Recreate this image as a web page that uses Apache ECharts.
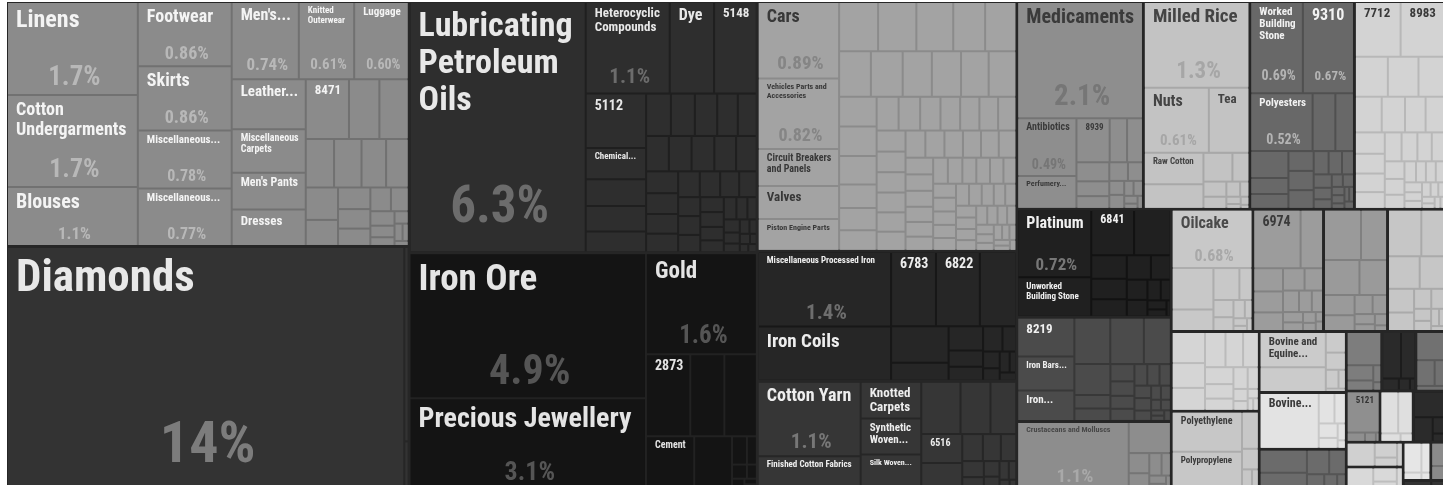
<!DOCTYPE html>
<html>
<head>
<meta charset="utf-8">
<script src="https://cdn.jsdelivr.net/npm/echarts/dist/echarts.min.js"></script>
<style>
html,body{margin:0;padding:0;background:#fff;overflow:hidden}
#chart{width:1443px;height:485px}
</style>
</head>
<body>
<div id="chart"></div>
<script>
// ---- Data: export shares (%). [name, share, showShareLabel]
const garmentsItems = [["Linens",1.74,1],["Cotton\nUndergarments",1.72,1],["Blouses",1.1,1],["Footwear",0.862,1],["Skirts",0.86,1],["Miscellaneous...",0.78,1],["Miscellaneous...",0.77,1],["Men's...",0.74,1],["Knitted\nOuterwear",0.61,1],["Luggage",0.60,1],["Leather...",0.53,0],["Miscellaneous\nCarpets",0.46,0],["Men's Pants",0.39,0],["Dresses",0.385,0],["8471",0.37,0]];
const garmentsOther = [0.26,0.25,0.196,0.19,0.17,0.156,0.15,0.12,0.1,0.09,0.08,0.07,0.06,0.05,0.04,0.03,0.025,0.02,0.015,0.01];
const diamondsItems = [["Diamonds",13.8,1]];
const diamondsOther = [0.12,0.03];
const chemItems = [["Lubricating\nPetroleum\nOils",6.3,1],["Heterocyclic\nCompounds",1.1,1],["Dye",0.58,0],["5148",0.56,0],["5112",0.47,0],["Chemical...",0.27,0]];
const chemOther = [0.23,0.22,0.18,0.15,0.145,0.135,0.125,0.115,0.115,0.115,0.115,0.11,0.105,0.1,0.095,0.09,0.085,0.08,0.075,0.07,0.065,0.06,0.06,0.055,0.05,0.05,0.045,0.04,0.04,0.035,0.03,0.03,0.025,0.02,0.02,0.015,0.015,0.01,0.01,0.01];
const oreItems = [["Iron Ore",4.9,1],["Precious Jewellery",3.1,1],["Gold",1.6,1],["2873",0.52,0],["Cement",0.37,0]];
const oreOther = [0.4,0.38,0.29,0.06,0.04,0.03,0.02,0.02,0.01,0.01];
const carsItems = [["Cars",0.89,1],["Vehicles Parts and\nAccessories",0.82,1],["Circuit Breakers\nand Panels",0.43,0],["Valves",0.385,0],["Piston Engine Parts",0.37,0]];
const carsOther = [0.275,0.27,0.26,0.225,0.22,0.207,0.207,0.19,0.19,0.18,0.18,0.159,0.159,0.153,0.126,0.12,0.11,0.106,0.104,0.098,0.095,0.093,0.09,0.088,0.087,0.085,0.084,0.082,0.08,0.079,0.077,0.074,0.072,0.07,0.069,0.068,0.066,0.065,0.063,0.06,0.058,0.056,0.055,0.054,0.052,0.051,0.05,0.048,0.046,0.045,0.044,0.043,0.042,0.041,0.04,0.038,0.036,0.035,0.034,0.033,0.032,0.031,0.03,0.028,0.026,0.025,0.024,0.022,0.02,0.018,0.016,0.015,0.013,0.012,0.01];
const ironItems = [["Miscellaneous Processed Iron",1.43,1],["Iron Coils",1.04,0],["6783",0.48,0],["6822",0.47,0]];
const ironOther = [0.39,0.3,0.15,0.12,0.08,0.07,0.07,0.05,0.04,0.03,0.03,0.02,0.02];
const cottonItems = [["Cotton Yarn",1.1,1],["Finished Cotton Fabrics",0.5,0],["Knotted\nCarpets",0.32,0],["Synthetic\nWoven...",0.312,0],["Silk Woven...",0.31,0],["6516",0.17,0]];
const cottonOther = [0.295,0.225,0.194,0.16,0.08,0.07,0.06,0.05,0.04,0.035,0.03,0.025,0.02,0.015,0.01];
const medItems = [["Medicaments",2.1,1],["Antibiotics",0.49,1],["Perfumery...",0.28,0],["8939",0.21,0]];
const medOther = [0.11,0.1,0.09,0.07,0.06,0.05,0.04,0.03,0.03,0.02,0.02,0.015,0.01,0.01];
const riceItems = [["Milled Rice",1.3,1],["Nuts",0.61,1],["Tea",0.38,0],["Raw Cotton",0.27,0]];
const riceOther = [0.21,0.12,0.07,0.05,0.04,0.03,0.02,0.015,0.01,0.01,0.005];
const stoneItems = [["Worked\nBuilding\nStone",0.69,1],["9310",0.67,1],["Polyesters",0.52,1]];
const stoneOther = [0.19,0.155,0.148,0.087,0.082,0.072,0.07,0.068,0.05,0.045,0.04,0.035,0.03,0.025,0.02,0.02,0.015,0.015,0.01,0.01,0.01,0.01];
const elecItems = [["7712",0.36,0],["8983",0.35,0]];
const elecOther = [0.19,0.177,0.153,0.138,0.12,0.106,0.1,0.092,0.085,0.08,0.072,0.07,0.066,0.06,0.055,0.05,0.045,0.04,0.035,0.03,0.03,0.028,0.025,0.022,0.02,0.018,0.016,0.014,0.012,0.01,0.01,0.008];
const platItems = [["Platinum",0.72,1],["Unworked\nBuilding Stone",0.42,0],["6841",0.28,0]];
const platOther = [0.24,0.12,0.105,0.09,0.085,0.07,0.06,0.05,0.04,0.03,0.025,0.02,0.01];
const furnItems = [["8219",0.32,0],["Iron Bars...",0.28,0],["Iron...",0.25,0]];
const furnOther = [0.24,0.225,0.18,0.16,0.07,0.065,0.06,0.05,0.045,0.042,0.04,0.038,0.035,0.03,0.03,0.025,0.02,0.02,0.015,0.015,0.01,0.01,0.01];
const crustItems = [["Crustaceans and Molluscs",1.1,1]];
const crustOther = [0.19,0.06,0.05,0.04,0.03,0.02,0.015,0.01];
const oilcakeItems = [["Oilcake",0.68,1]];
const oilcakeOther = [0.25,0.13,0.12,0.06,0.05,0.04,0.03,0.02,0.015,0.01,0.01];
const hwItems = [["6974",0.4,0]];
const hwOther = [0.19,0.1,0.09,0.08,0.07,0.06,0.05,0.04,0.035,0.03,0.025,0.02,0.015,0.01,0.01];
const polyItems = [["Polyethylene",0.41,0],["Polypropylene",0.39,0]];
const polyOther = [0.09,0.05,0.03,0.02];
const bovEqItems = [["Bovine and\nEquine...",0.34,0]];
const bovEqOther = [0.24,0.06,0.05,0.035,0.02,0.01];
const bovItems = [["Bovine...",0.48,0]];
const bovOther = [0.07,0.05,0.04,0.03,0.02,0.01];
const alcItems = [["5121",0.2,0]];
const alcOther = [0.025,0.015,0.005];
const unlabelledGroups = [
  [0.27,0.19,0.18,0.14,0.09,0.07,0.05,0.04,0.03,0.02,0.02,0.01],
  [0.225,0.16,0.15,0.12,0.09,0.07,0.05,0.04,0.03,0.025,0.02,0.015,0.01],
  [0.15,0.12,0.11,0.105,0.09,0.08,0.07,0.06,0.05,0.045,0.035,0.025,0.02,0.015,0.01,0.01],
  [0.16,0.12,0.08,0.06,0.04,0.03,0.02],
  [0.17,0.06,0.04,0.02,0.01],
  [0.13,0.1,0.03,0.02,0.01],
  [0.12,0.07,0.04,0.02],
  [0.11,0.09,0.025,0.015],
  [0.12,0.07,0.03,0.015],
  [0.1,0.05,0.03,0.02],
  [0.09,0.05,0.03,0.02],
  [0.08,0.04,0.02,0.01],
  [0.05,0.03],
  [0.04,0.02]
];

// ---- Styles (kept apart from data): [cell fill, inner line, name colour, share colour]
const labelledStyles = [
  ['#8b8b8b','#717171','#f4f4f4','#b8b8b8'], // garments
  ['#333333','#262626','#e8e8e8','#7c7c7c'], // diamonds
  ['#2e2e2e','#1f1f1f','#e8e8e8','#6c6c6c'], // chem / petroleum
  ['#141414','#222222','#e4e4e4','#555555'], // ore / gold
  ['#a3a3a3','#8b8b8b','#383838','#858585'], // cars
  ['#262626','#171717','#eeeeee','#6e6e6e'], // iron
  ['#363636','#262626','#eeeeee','#777777'], // cotton
  ['#8e8e8e','#747474','#3a3a3a','#767676'], // medicaments
  ['#c3c3c3','#a8a8a8','#444444','#a6a6a6'], // rice
  ['#686868','#505050','#f2f2f2','#b4b4b4'], // stone
  ['#d3d3d3','#b8b8b8','#3a3a3a','#aaaaaa'], // 7712
  ['#202020','#121212','#f0f0f0','#777777'], // platinum
  ['#4b4b4b','#383838','#f0f0f0','#888888'], // 8219
  ['#8d8d8d','#757575','#484848','#a9a9a9'], // crustaceans
  ['#c8c8c8','#adadad','#4a4a4a','#a8a8a8'], // oilcake
  ['#9c9c9c','#828282','#3a3a3a','#888888'], // 6974
  ['#c7c7c7','#acacac','#3a3a3a','#aaaaaa'], // polyethylene
  ['#cbcbcb','#afafaf','#3a3a3a','#aaaaaa'], // bovine & equine
  ['#e3e3e3','#c8c8c8','#3a3a3a','#bbbbbb'], // bovine
  ['#8f8f8f','#767676','#333333','#aaaaaa']  // 5121
];
const unlabelledStyles = [
  ['#9a9a9a','#808080'],['#c6c6c6','#aaaaaa'],['#d5d5d5','#bbbbbb'],['#6b6b6b','#555555'],
  ['#7d7d7d','#646464'],['#2a2a2a','#1c1c1c'],['#717171','#5a5a5a'],['#dfdfdf','#c4c4c4'],
  ['#2b2b2b','#1c1c1c'],['#d0d0d0','#b5b5b5'],['#d9d9d9','#bebebe'],['#e6e6e6','#cccccc'],
  ['#8a8a8a','#707070'],['#333333','#222222']
];

const labelledGroups = [
  [garmentsItems, garmentsOther],[diamondsItems, diamondsOther],[chemItems, chemOther],[oreItems, oreOther],
  [carsItems, carsOther],[ironItems, ironOther],[cottonItems, cottonOther],[medItems, medOther],
  [riceItems, riceOther],[stoneItems, stoneOther],[elecItems, elecOther],[platItems, platOther],
  [furnItems, furnOther],[crustItems, crustOther],[oilcakeItems, oilcakeOther],[hwItems, hwOther],
  [polyItems, polyOther],[bovEqItems, bovEqOther],[bovItems, bovOther],[alcItems, alcOther]
];

const FONT = "'Liberation Sans Narrow','Roboto Condensed','DejaVu Sans Condensed','Arial Narrow','Liberation Sans',sans-serif";
const mctx = document.createElement('canvas').getContext('2d');
function textW(t, fs) { mctx.font = 'bold ' + fs + 'px ' + FONT; return mctx.measureText(t).width; }
function fmtShare(v) { return (v >= 10 ? String(Math.round(v)) : v >= 1 ? v.toFixed(1) : v.toFixed(2)) + '%'; }
const NO_STROKE = { textBorderWidth: 0, textBorderColor: 'transparent', textShadowBlur: 0, textShadowColor: 'transparent', opacity: 1 };

function makeLabel(item, sz, st) {
  if (!sz) return { show: false };
  const name = item[0], v = item[1], showPct = item[2];
  const w = sz.w, h = sz.h;
  const padL = 8, padR = 4;
  const aw = w - padL - padR;
  const lines = name.split('\n');
  const r = Math.max.apply(null, lines.map(l => textW(l, 100))) / 100;
  const fs = Math.floor(Math.min(aw * 0.97 / r, 0.18 * Math.sqrt(w * h) + 5, 0.42 * h, 0.8 * h / lines.length, 45));
  if (fs < 7) return { show: false };
  const nlh = Math.round(fs * 1.1);
  const padT = Math.round(2 + fs * 0.12);
  let text = lines.map(l => '{n|' + l + '}').join('\n');
  const rich = { n: Object.assign({ fontSize: fs, lineHeight: nlh, fontWeight: 'bold', fontFamily: FONT, color: st[2] }, NO_STROKE) };
  if (showPct) {
    const pct = fmtShare(v);
    const pr = textW(pct, 100) / 100;
    const nameBottom = padT + nlh * lines.length;
    let pfs = Math.floor(Math.min(0.25 * Math.sqrt(w * h), aw * 0.9 / pr, 0.3 * h, 58, (h - nameBottom - 2) * 0.9));
    if (pfs >= 7) {
      const plh = Math.round(pfs * 1.1);
      const center = Math.min(Math.max(0.83 * h, nameBottom + plh / 2), h - plh / 2 - 1);
      const gap = Math.round(center - plh / 2 - nameBottom);
      if (gap >= 1) {
        text += '\n{s| }';
        rich.s = { fontSize: 1, lineHeight: gap, height: gap, color: st[0] };
      }
      text += '\n{p|' + pct + '}';
      rich.p = Object.assign({ fontSize: pfs, lineHeight: plh, fontWeight: 'bold', fontFamily: FONT, color: st[3],
        width: Math.max(Math.floor(aw - 2), 1), align: 'center' }, NO_STROKE);
    }
  }
  return Object.assign({
    show: true, position: 'insideTopLeft',
    padding: [padT, padR, 0, padL], overflow: 'none',
    color: st[2], fontFamily: FONT, fontWeight: 'bold',
    formatter: function () { return text; }, rich: rich
  }, NO_STROKE);
}

function buildData(sizes) {
  const out = [];
  labelledGroups.forEach((g, gi) => {
    const st = labelledStyles[gi];
    const children = [];
    g[0].forEach((it, j) => {
      const key = 'L' + gi + '_' + j;
      children.push({ name: it[0].replace(/\n/g, ' '), value: it[1], key: key,
        label: sizes ? makeLabel(it, sizes[key], st) : { show: false } });
    });
    g[1].forEach((v, j) => children.push({ name: 'o' + gi + '_' + j, value: v, label: { show: false } }));
    out.push({ name: 'group' + gi, itemStyle: { color: st[0], borderColor: st[1] }, children: children });
  });
  unlabelledGroups.forEach((g, gi) => {
    const st = unlabelledStyles[gi];
    out.push({ name: 'ugroup' + gi, itemStyle: { color: st[0], borderColor: st[1] },
      children: g.map((v, j) => ({ name: 'u' + gi + '_' + j, value: v, label: { show: false } })) });
  });
  return out;
}

function buildOption(sizes) {
  return {
    animation: false,
    animationDuration: 0,
    animationDurationUpdate: 0,
    stateAnimation: { duration: 0 },
    series: [{
      type: 'treemap',
      left: 7, top: 2, width: 1438, height: 488,
      animation: false, animationDuration: 0, animationDurationUpdate: 0,
      roam: false, nodeClick: false,
      breadcrumb: { show: false },
      visibleMin: 0,
      label: { show: false },
      emphasis: { disabled: true },
      levels: [
        { itemStyle: { borderWidth: 1, gapWidth: 3, borderColor: '#262626' } },
        { itemStyle: { borderWidth: 0, gapWidth: 2 } },
        { itemStyle: { borderWidth: 0, gapWidth: 0, borderColor: 'rgba(0,0,0,0)' } }
      ],
      data: buildData(sizes)
    }]
  };
}

const el = document.getElementById('chart');
// Pass 1: let ECharts lay out the treemap, then read each labelled cell's size.
let chart = echarts.init(el);
chart.setOption(buildOption(null));
const sizes = {};
try {
  const sd = chart.getModel().getSeriesByIndex(0).getData();
  for (let i = 0; i < sd.count(); i++) {
    const raw = sd.getRawDataItem(i);
    const lay = sd.getItemLayout(i);
    if (raw && raw.key != null && lay) sizes[raw.key] = { w: lay.width, h: lay.height };
  }
} catch (e) { console.error(e); }
// Pass 2: fresh instance with labels fitted to those cells.
chart.dispose();
chart = echarts.init(el);
chart.setOption(buildOption(sizes));

// Make sure nothing is caught mid-transition when the page is photographed.
function settle() {
  try {
    const zr = chart.getZr();
    zr.storage.getRoots().forEach(function (root) {
      const visit = function (c) {
        if (c.stopAnimation) c.stopAnimation(null, true);
        const t = c.getTextContent && c.getTextContent();
        if (t && t.stopAnimation) t.stopAnimation(null, true);
      };
      visit(root);
      if (root.traverse) root.traverse(visit);
    });
    zr.refreshImmediately();
  } catch (e) { console.error(e); }
}
settle();
setTimeout(settle, 20);
setTimeout(settle, 120);
</script>
</body>
</html>
